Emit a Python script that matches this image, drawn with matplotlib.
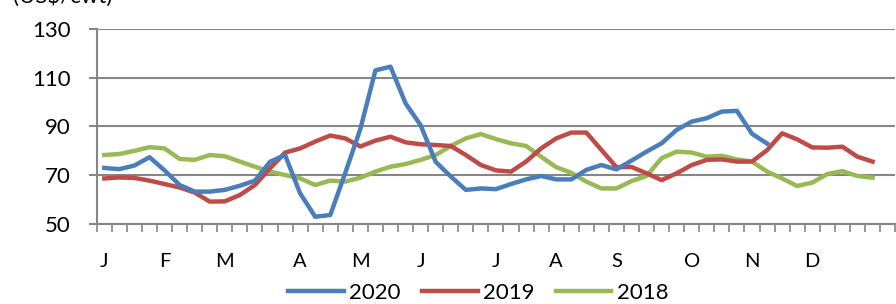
import numpy as np
import matplotlib
matplotlib.use('Agg')
import matplotlib.pyplot as plt

# Weekly prices (US$/cwt)
prices_2020 = [73, 72.5, 74, 77.4, 72, 66, 63.3, 63.3, 64, 65.7, 67.8, 75.5, 78.3, 62.6,
               53, 53.7, 71, 89, 113, 114.5, 99.5, 90.5, 75.5, 69.5, 64, 64.6, 64.3, 66.4,
               68.3, 69.7, 68.3, 68.3, 72.2, 74.2, 72.4, 76, 79.7, 83.1, 88.6, 92, 93.4,
               96.1, 96.4, 87, 83]
prices_2019 = [68.7, 69.1, 68.9, 67.8, 66.4, 65, 62.9, 59.2, 59.3, 61.9, 66, 72.8, 79.3, 81,
               83.8, 86.3, 85.1, 81.8, 84.2, 85.8, 83.5, 82.7, 82.4, 82, 78.3, 74.2, 72,
               71.5, 75.6, 81, 85.1, 87.5, 87.5, 80.4, 73.3, 73.4, 70.8, 68, 70.8, 74.2,
               76.3, 76.5, 75.6, 75.6, 80.3, 87.2, 84.7, 81.4, 81.3, 81.7, 77.6, 75.6]
prices_2018 = [78.3, 78.7, 80, 81.5, 81, 76.7, 76.3, 78.3, 77.8, 75.6, 73.5, 71.5, 70.1,
               68.7, 66, 67.8, 67.4, 69, 71.5, 73.5, 74.6, 76.3, 78.3, 82, 85.1, 86.9, 84.8,
               83.1, 82, 77.6, 73.3, 71, 67.4, 64.6, 64.6, 67.6, 69.7, 77, 79.7, 79.3,
               77.6, 78, 76.5, 75.6, 71.5, 68.7, 65.6, 67, 70.5, 71.7, 69.7, 69]

n_weeks = 53
month_labels = ['J', 'F', 'M', 'A', 'M', 'J', 'J', 'A', 'S', 'O', 'N', 'D']
month_pos = [0, 4, 8, 13, 17, 21, 26, 30, 34, 39, 43, 47]

plt.rcParams['font.family'] = ['Lato', 'DejaVu Sans']

fig = plt.figure(figsize=(8.96, 3.04), dpi=100)
ax = fig.add_axes([0.108, 0.263, 0.891, 0.642])

grey = '#868686'
ax.plot(np.arange(len(prices_2020)), prices_2020, color='#4A7EBB', lw=3.2,
        label='2020', solid_joinstyle='round', zorder=5)
ax.plot(np.arange(len(prices_2019)), prices_2019, color='#BE4B48', lw=3.2,
        label='2019', solid_joinstyle='round', zorder=4)
ax.plot(np.arange(len(prices_2018)), prices_2018, color='#98B954', lw=3.2,
        label='2018', solid_joinstyle='round', zorder=3)

ax.set_xlim(-0.5, n_weeks - 0.5)
ax.set_ylim(50, 130)
ax.set_yticks([50, 70, 90, 110, 130])
ax.yaxis.grid(True, color=grey, lw=1.5)
ax.set_axisbelow(True)

for s in ['top', 'right']:
    ax.spines[s].set_visible(False)
for s in ['left', 'bottom']:
    ax.spines[s].set_color(grey)
    ax.spines[s].set_linewidth(1.5)

ax.set_xticks(month_pos)
ax.set_xticklabels(month_labels)
ax.set_xticks(np.arange(-0.5, n_weeks, 1), minor=True)
ax.tick_params(axis='x', which='major', length=0, pad=21, labelsize=14.5)
ax.tick_params(axis='x', which='minor', length=5.5, width=1.2, color=grey, direction='out')
ax.tick_params(axis='y', length=6, width=1.5, color=grey, pad=13, labelsize=16)

fig.text(0.014, 1 - 3 / 304, '(US$/cwt)', fontsize=16, ha='left', va='baseline')

fig.legend(loc='center', bbox_to_anchor=(0.534, 0.036), ncol=3, frameon=False,
           fontsize=16, handlelength=2.5, handletextpad=0.25, columnspacing=0.95)

fig.savefig('out.png', dpi=100)
